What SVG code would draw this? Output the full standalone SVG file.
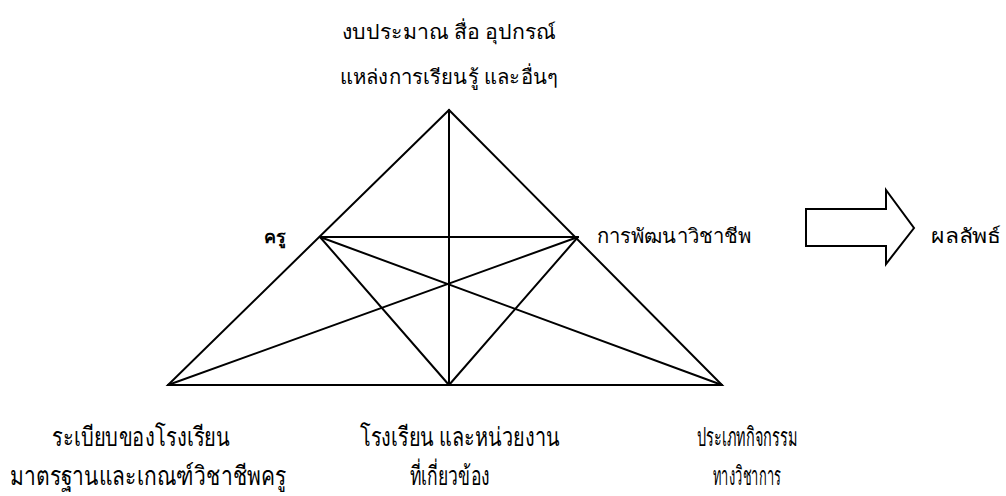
<svg xmlns="http://www.w3.org/2000/svg" width="1006" height="496" viewBox="0 0 1006 496">
<style>
.t{font-family:"Noto Sans","DejaVu Sans",sans-serif;font-size:20px;font-weight:300;fill:#000;text-anchor:middle}
.b{font-weight:bold;font-size:18px}
.c{font-size:26px}
.ln{stroke:#000;stroke-width:2;fill:none;stroke-linecap:round;stroke-linejoin:miter}
</style>
<rect width="1006" height="496" fill="#fff"/>
<g id="connectors" class="ln">
<polygon points="449,110 168,385 722,385"/>
<line x1="449" y1="110" x2="449" y2="385"/>
<line x1="320" y1="237" x2="578" y2="237"/>
<line x1="320" y1="237" x2="449" y2="385"/>
<line x1="578" y1="237" x2="449" y2="385"/>
<line x1="320" y1="237" x2="722" y2="385"/>
<line x1="578" y1="237" x2="168" y2="385"/>
</g>
<g id="node-top">
<text class="t" x="449" y="39" textLength="215" lengthAdjust="spacingAndGlyphs">งบประมาณ สื่อ อุปกรณ์</text>
<text class="t" x="449" y="84" textLength="218" lengthAdjust="spacingAndGlyphs">แหล่งการเรียนรู้ และอื่นๆ</text>
</g>
<g id="node-kru">
<text class="t b" x="275" y="243">ครู</text>
</g>
<g id="node-dev">
<text class="t" x="674" y="243" textLength="155" lengthAdjust="spacingAndGlyphs">การพัฒนาวิชาชีพ</text>
</g>
<g id="node-arrow">
<polygon class="ln" points="806,209 886,209 886,190 914,228 886,264 886,246 806,246"/>
</g>
<g id="node-result">
<text class="t" x="966" y="243" textLength="70" lengthAdjust="spacingAndGlyphs">ผลลัพธ์</text>
</g>
<g id="node-left">
<text class="t c" x="141" y="446" textLength="178" lengthAdjust="spacingAndGlyphs">ระเบียบของโรงเรียน</text>
<text class="t c" x="148" y="485" textLength="276" lengthAdjust="spacingAndGlyphs">มาตรฐานและเกณฑ์วิชาชีพครู</text>
</g>
<g id="node-mid">
<text class="t c" x="460" y="446" textLength="200" lengthAdjust="spacingAndGlyphs">โรงเรียน และหน่วยงาน</text>
<text class="t c" x="450" y="485" textLength="80" lengthAdjust="spacingAndGlyphs">ที่เกี่ยวข้อง</text>
</g>
<g id="node-right">
<text class="t c" x="747" y="446" textLength="100" lengthAdjust="spacingAndGlyphs">ประเภทกิจกรรม</text>
<text class="t c" x="747" y="485" textLength="68" lengthAdjust="spacingAndGlyphs">ทางวิชาการ</text>
</g>
</svg>
